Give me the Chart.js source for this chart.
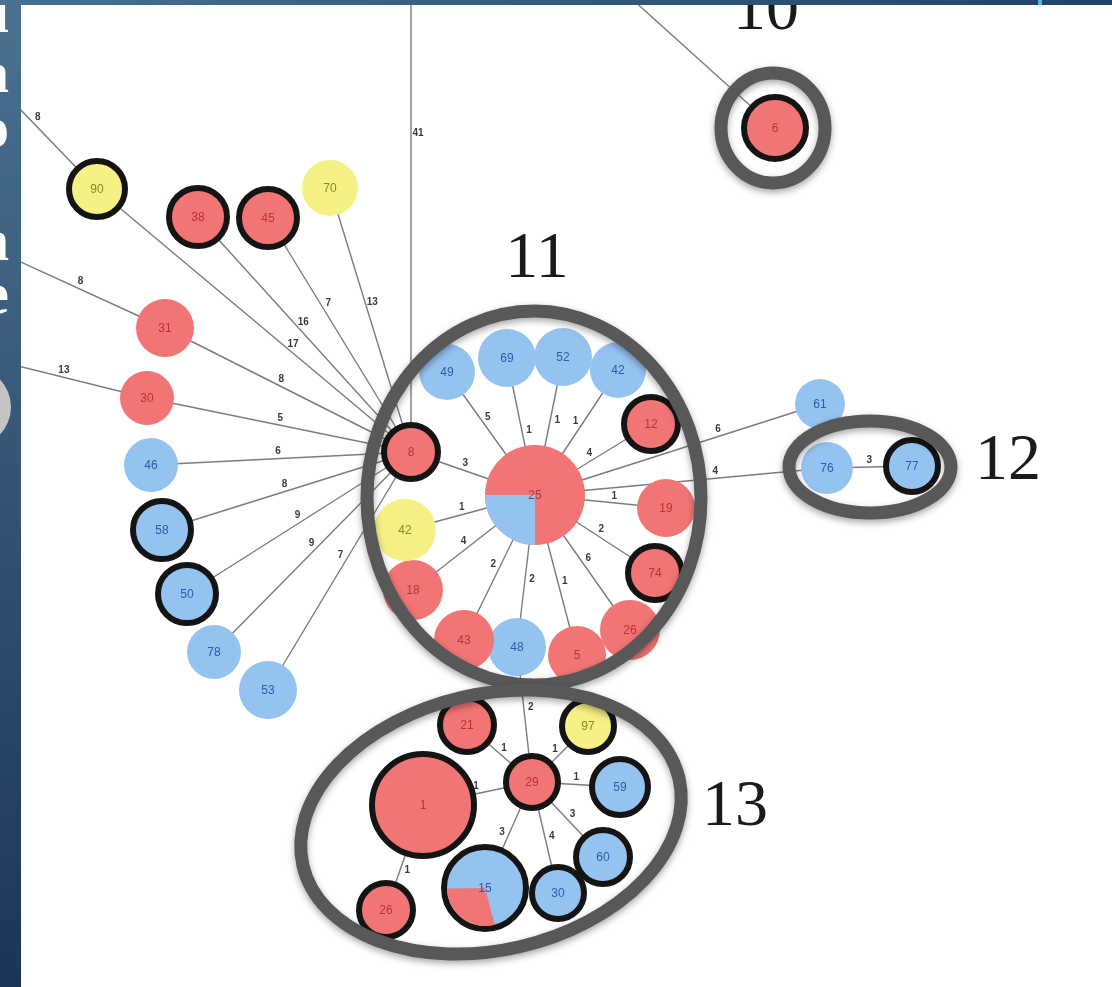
<!DOCTYPE html>
<html>
<head>
<meta charset="utf-8">
<script src="https://cdn.jsdelivr.net/npm/chart.js@4.4.1/dist/chart.umd.min.js"></script>
<style>
  html, body { margin: 0; padding: 0; background: #fff; overflow: hidden; }
  #wrap { position: relative; width: 1112px; height: 987px; }
  #net { position: absolute; left: 0; top: 0; }
  #side { position: absolute; left: 0; top: 0; width: 21px; height: 987px; overflow: hidden;
          background: linear-gradient(#4b7191, #1d3458); }
  #side span { position: absolute; right: 12px; font: bold 60px "Liberation Serif", serif;
               line-height: 60px; color: #fff; }
  #side .dot { position: absolute; left: -69px; top: 367px; width: 80px; height: 80px;
               border-radius: 50%; background: #c4c4c4; }
  #band { position: absolute; left: 21px; top: 0; width: 1091px; height: 5px;
          background: linear-gradient(90deg, #44708f, #1f4468); }
  #band i { position: absolute; left: 1017px; top: 0; width: 4px; height: 5px; background: #5ab0d8; }
</style>
</head>
<body>
<div id="wrap">
  <canvas id="net" width="1112" height="987"></canvas>
  <div id="side">
    <span style="top:-18px">i</span>
    <span style="top:42px">a</span>
    <span style="top:97px">o</span>
    <span style="top:210px">n</span>
    <span style="top:263px">e</span>
    <div class="dot"></div>
  </div>
  <div id="band"><i></i></div>
</div>
<script>
// nodes: label, layout position, size, type (r/b/y), outlined or not
// the last five entries are off-page anchors for edges leaving the view
const nodeLabels = ['8', '90', '38', '45', '70', '31', '30', '46', '58', '50', '78', '53',
  '25', '49', '69', '52', '42', '12', '19', '74', '26', '5', '48', '43', '18', '42',
  '6', '61', '76', '77',
  '21', '97', '1', '29', '59', '60', '30', '15', '26',
  '', '', '', '', ''];
const nodeX = [411, 97, 198, 268, 330, 165, 147, 151, 162, 187, 214, 268,
  535, 447, 507, 563, 618, 651, 666, 655, 630, 577, 517, 464, 413, 405,
  775, 820, 827, 912,
  467, 588, 423, 532, 620, 603, 558, 485, 386,
  -10, -10, -10, 411, 622];
const nodeY = [452, 189, 217, 218, 188, 328, 398, 465, 530, 594, 652, 690,
  495, 372, 358, 357, 370, 424, 508, 573, 630, 655, 647, 640, 590, 530,
  128, 404, 468, 466,
  725, 726, 805, 782, 787, 857, 893, 888, 910,
  78, 248, 359, -10, -10];
const nodeSize = [30, 31, 32, 32, 28, 29, 27, 27, 32, 32, 27, 29,
  50, 28, 29, 29, 28, 30, 29, 30, 30, 29, 29, 30, 30, 31,
  34, 25, 26, 29,
  30, 29, 54, 29, 31, 30, 29, 44, 30,
  0, 0, 0, 0, 0];
const nodeKind = ['r', 'y', 'r', 'r', 'y', 'r', 'r', 'b', 'b', 'b', 'b', 'b',
  'r', 'b', 'b', 'b', 'b', 'r', 'r', 'r', 'r', 'r', 'b', 'r', 'r', 'y',
  'r', 'b', 'b', 'b',
  'r', 'y', 'r', 'r', 'b', 'b', 'b', 'b', 'r',
  '', '', '', '', ''];
const nodeRing = [1, 1, 1, 1, 0, 0, 0, 0, 1, 1, 0, 0,
  0, 0, 0, 0, 0, 1, 0, 1, 0, 0, 0, 0, 0, 0,
  1, 0, 0, 1,
  1, 1, 1, 1, 1, 1, 1, 1, 1,
  0, 0, 0, 0, 0];

// mixed nodes: which node, second type, its share and where the slice starts (deg)
const pieNode = [12, 37];
const pieKind = ['b', 'r'];
const pieShare = [0.25, 0.29];
const pieFrom = [90, 75];

// edges with their distance labels
const edgeFrom = [0, 0, 0, 0, 0, 0, 0, 0, 0, 0, 0,
  39, 40, 41, 42, 43,
  12, 12, 12, 12, 12, 12, 12, 12, 12, 12, 12, 12, 12, 12, 12, 12,
  28,
  33, 33, 33, 33, 33, 33, 33, 32, 33];
const edgeTo = [1, 2, 3, 4, 5, 6, 7, 8, 9, 10, 11,
  1, 5, 6, 0, 26,
  0, 13, 14, 15, 16, 17, 18, 19, 20, 21, 22, 23, 24, 25, 27, 28,
  29,
  30, 31, 32, 34, 37, 36, 35, 38, 22];
const edgeWeight = ['17', '16', '7', '13', '8', '5', '6', '8', '9', '9', '7',
  '8', '8', '13', '41', '',
  '3', '5', '1', '1', '1', '4', '1', '2', '6', '1', '2', '2', '4', '1', '6', '4',
  '3',
  '1', '1', '1', '1', '3', '4', '3', '1', '2'];
const edgeLabelAt = [0.39, 0.53, 0.62, 0.56, 0.54, 0.5, 0.51, 0.5, 0.49, 0.48, 0.45,
  0.4, 0.5, 0.46, 0.31, 0.5,
  0.58, 0.6, 0.46, 0.55, 0.56, 0.5, 0.6, 0.52, 0.5, 0.55, 0.55, 0.5, 0.55, 0.55, 0.65, 0.62,
  0.5,
  0.5, 0.5, 0.5, 0.5, 0.5, 0.5, 0.5, 0.6, 0.55];

// clusters
const groupNames = ['10', '11', '12', '13'];
const groupX = [773, 534, 870, 491];
const groupY = [128, 498, 467, 822];
const groupRx = [52, 167, 81, 193];
const groupRy = [55, 187, 46, 128];
const groupTilt = [0, 0, 0, -13];
const groupLabelX = [766, 537, 1008, 735];
const groupLabelY = [12, 260, 462, 808];

const fills = { r: '#f27575', b: '#95c3f0', y: '#f5f184' };
const inks = { r: '#b8323c', b: '#2a5aac', y: '#8a8820' };
const RING = 6;

const nodePoints = nodeX.map((x, i) => ({ x, y: nodeY[i] }));

// one line dataset, segments split by null points
const edgePoints = [];
edgeFrom.forEach((a, k) => {
  const b = edgeTo[k];
  edgePoints.push({ x: nodeX[a], y: nodeY[a] }, { x: nodeX[b], y: nodeY[b] }, { x: nodeX[b], y: null });
});

function sizePx(chart, i) {
  const sx = chart.scales.x;
  return sx.getPixelForValue(nodeX[i] + nodeSize[i]) - sx.getPixelForValue(nodeX[i]);
}

const networkPlugin = {
  id: 'network',
  afterDatasetsDraw(chart) {
    const ctx = chart.ctx;
    const sx = chart.scales.x, sy = chart.scales.y;
    const px = i => sx.getPixelForValue(nodeX[i]);
    const py = i => sy.getPixelForValue(nodeY[i]);

    // slices of mixed nodes
    pieNode.forEach((i, k) => {
      const r = sizePx(chart, i) - (nodeRing[i] ? RING : 0);
      const a0 = pieFrom[k] * Math.PI / 180;
      const a1 = a0 + pieShare[k] * Math.PI * 2;
      ctx.save();
      ctx.beginPath();
      ctx.moveTo(px(i), py(i));
      ctx.arc(px(i), py(i), r, a0, a1);
      ctx.closePath();
      ctx.fillStyle = fills[pieKind[k]];
      ctx.fill();
      ctx.restore();
    });

    // node labels
    ctx.save();
    ctx.font = '12px "Liberation Sans", Arial, sans-serif';
    ctx.textAlign = 'center';
    ctx.textBaseline = 'middle';
    nodeLabels.forEach((t, i) => {
      if (!t) return;
      ctx.fillStyle = inks[nodeKind[i]];
      ctx.fillText(t, px(i), py(i) + 1);
    });
    ctx.restore();

    // edge weights, set just off the line
    ctx.save();
    ctx.font = 'bold 10px "Liberation Sans", Arial, sans-serif';
    ctx.fillStyle = '#3a3a3a';
    ctx.textAlign = 'center';
    ctx.textBaseline = 'middle';
    edgeFrom.forEach((a, k) => {
      const w = edgeWeight[k];
      if (!w) return;
      const b = edgeTo[k];
      const t = edgeLabelAt[k];
      const x0 = px(a), y0 = py(a), x1 = px(b), y1 = py(b);
      const dx = x1 - x0, dy = y1 - y0;
      const len = Math.hypot(dx, dy) || 1;
      let nx = -dy / len, ny = dx / len;
      if (Math.abs(ny) < 0.35) { if (nx < 0) { nx = -nx; ny = -ny; } }
      else if (ny > 0) { nx = -nx; ny = -ny; }
      ctx.fillText(w, x0 + dx * t + nx * 7, y0 + dy * t + ny * 7);
    });
    ctx.restore();

    // cluster outlines
    groupNames.forEach((g, k) => {
      const cx = sx.getPixelForValue(groupX[k]);
      const cy = sy.getPixelForValue(groupY[k]);
      const rx = sx.getPixelForValue(groupX[k] + groupRx[k]) - cx;
      const ry = sy.getPixelForValue(groupY[k] + groupRy[k]) - cy;
      ctx.save();
      ctx.shadowColor = 'rgba(0,0,0,0.35)';
      ctx.shadowBlur = 7;
      ctx.shadowOffsetY = 3;
      ctx.lineWidth = 13;
      ctx.strokeStyle = '#585858';
      ctx.beginPath();
      ctx.ellipse(cx, cy, Math.abs(rx), Math.abs(ry), groupTilt[k] * Math.PI / 180, 0, Math.PI * 2);
      ctx.stroke();
      ctx.restore();
    });

    // cluster numbers
    ctx.save();
    ctx.font = '66px "Liberation Serif", "Times New Roman", serif';
    ctx.fillStyle = '#1a1a1a';
    ctx.textAlign = 'center';
    ctx.textBaseline = 'middle';
    groupNames.forEach((g, k) => {
      ctx.fillText(g, sx.getPixelForValue(groupLabelX[k]), sy.getPixelForValue(groupLabelY[k]));
    });
    ctx.restore();
  }
};

new Chart(document.getElementById('net').getContext('2d'), {
  type: 'scatter',
  data: {
    datasets: [
      {
        label: 'nodes',
        order: 0,
        data: nodePoints,
        pointRadius: c => {
          const i = c.dataIndex;
          if (!nodeSize[i]) return 0;
          return sizePx(c.chart, i) - (nodeRing[i] ? RING / 2 : 0);
        },
        pointHoverRadius: c => (nodeSize[c.dataIndex] ? sizePx(c.chart, c.dataIndex) : 0),
        pointBackgroundColor: c => fills[nodeKind[c.dataIndex]] || 'transparent',
        pointBorderColor: '#141414',
        pointBorderWidth: c => (nodeRing[c.dataIndex] ? RING : 0),
        pointHoverBorderWidth: c => (nodeRing[c.dataIndex] ? RING : 0)
      },
      {
        type: 'line',
        label: 'edges',
        order: 1,
        data: edgePoints,
        borderColor: '#7c7c7c',
        borderWidth: 1.4,
        pointRadius: 0,
        spanGaps: false,
        fill: false
      }
    ]
  },
  options: {
    responsive: false,
    animation: false,
    devicePixelRatio: 1,
    layout: { padding: 0 },
    events: [],
    scales: {
      x: { type: 'linear', min: 0, max: 1112, display: false },
      y: { type: 'linear', min: 0, max: 987, reverse: true, display: false }
    },
    plugins: {
      legend: { display: false },
      tooltip: { enabled: false }
    }
  },
  plugins: [networkPlugin]
});
</script>
</body>
</html>
